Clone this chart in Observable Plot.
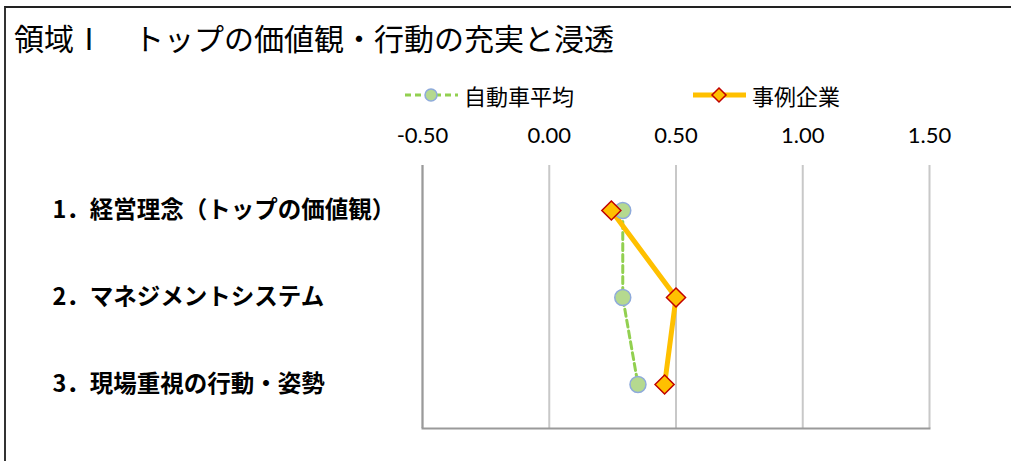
<!DOCTYPE html>
<html>
<head>
<meta charset="utf-8">
<script src="https://cdn.jsdelivr.net/npm/d3@7"></script>
<script src="https://cdn.jsdelivr.net/npm/@observablehq/plot@0.6"></script>
<style>
  html, body { margin: 0; padding: 0; background: #fff; }
  #wrap { position: relative; width: 1011px; height: 461px; overflow: hidden; }
  #frame { position: absolute; left: 4px; top: 6px; width: 1007px; height: 455px;
           border-top: 2px solid #222; border-left: 2px solid #333; box-sizing: border-box; }
  #title { position: absolute; left: 14px; top: 17px; font-family: "Noto Sans CJK JP", sans-serif;
           font-size: 30px; line-height: 40px; color: #000; white-space: nowrap; }
  .leg { position: absolute; top: 80px; height: 30px; display: flex; align-items: center;
         font-family: "Noto Sans CJK JP", sans-serif; font-size: 22px; color: #000; white-space: nowrap; }
  .leg svg { margin-right: 5px; }
  #chart { position: absolute; left: 0; top: 0; }
</style>
</head>
<body>
<div id="wrap">
  <div id="frame"></div>
  <div id="title"></div>
  <div id="legend"></div>
  <div id="chart"></div>
</div>
<script>
const titleText = "領域Ⅰ　トップの価値観・行動の充実と浸透";
const categories = [
  "1．経営理念（トップの価値観）",
  "2．マネジメントシステム",
  "3．現場重視の行動・姿勢"
];
const seriesNames = ["自動車平均", "事例企業"];
const avgValues = [0.29, 0.29, 0.35];
const caseValues = [0.245, 0.50, 0.455];
const xTicks = [-0.5, 0, 0.5, 1.0, 1.5];

const avgData = categories.map((c, i) => ({category: c, value: avgValues[i]}));
const caseData = categories.map((c, i) => ({category: c, value: caseValues[i]}));

document.getElementById("title").textContent = titleText;

// legend
const legend = document.getElementById("legend");
function legItem(left, name, swatch) {
  const d = document.createElement("div");
  d.className = "leg";
  d.style.left = left + "px";
  d.innerHTML = swatch + "<span>" + name + "</span>";
  legend.appendChild(d);
}
legItem(404, seriesNames[0],
  '<svg width="55" height="20"><line x1="1" y1="10" x2="54" y2="10" stroke="#92d050" stroke-width="3" stroke-dasharray="6,4"/>' +
  '<circle cx="27" cy="10" r="6" fill="#b5d98f" stroke="#8eaadb" stroke-width="1.5"/></svg>');
legItem(692, seriesNames[1],
  '<svg width="55" height="20"><line x1="1" y1="10" x2="54" y2="10" stroke="#ffc000" stroke-width="5"/>' +
  '<path d="M27,3 L34,10 L27,17 L20,10 Z" fill="#ffc000" stroke="#c00000" stroke-width="1.5"/></svg>');

const chart = Plot.plot({
  width: 1011,
  height: 461,
  marginLeft: 422,
  marginRight: 82,
  marginTop: 165,
  marginBottom: 33,
  x: {domain: [-0.5, 1.5], label: null},
  y: {type: "point", domain: categories, padding: 0.5, label: null},
  style: {background: "transparent"},
  marks: [
    Plot.gridX(xTicks, {stroke: "#c8c8c8", strokeOpacity: 1, strokeWidth: 2}),
    Plot.ruleX([-0.5], {stroke: "#9a9a9a", strokeWidth: 2}),
    Plot.frame({anchor: "bottom", stroke: "#9a9a9a", strokeWidth: 2}),
    Plot.axisX({anchor: "top", ticks: xTicks, tickFormat: d => d.toFixed(2), tickSize: 0, tickPadding: 23,
                label: null, fontSize: 22, fontFamily: "Lato, 'Noto Sans', sans-serif", fill: "#000"}),
    Plot.axisY({anchor: "left", tickSize: 0, tickPadding: 0, textAnchor: "start", dx: -370, label: null,
                fontSize: 23.5, fontWeight: "bold", fontFamily: "'Noto Sans CJK JP', sans-serif", fill: "#000"}),
    Plot.line(avgData, {x: "value", y: "category", stroke: "#92d050", strokeWidth: 3, strokeDasharray: "7,4"}),
    Plot.line(caseData, {x: "value", y: "category", stroke: "#ffc000", strokeWidth: 5}),
    Plot.dot(avgData, {x: "value", y: "category", r: 8, fill: "#b5d98f", stroke: "#8eaadb", strokeWidth: 1.5}),
    Plot.dot(caseData, {x: "value", y: "category", r: 8.6, symbol: "diamond2", fill: "#ffc000", stroke: "#c00000", strokeWidth: 1.5})
  ]
});
document.getElementById("chart").appendChild(chart);
</script>
</body>
</html>
